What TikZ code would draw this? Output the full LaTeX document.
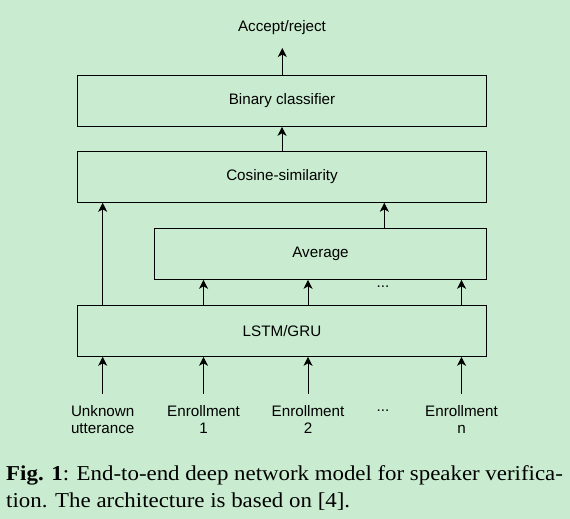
\documentclass[tikz,border=0pt]{standalone}
\usepackage{fontspec}
\setmainfont{Liberation Serif}
\setsansfont{Liberation Sans}
\usetikzlibrary{arrows.meta}
\definecolor{bgcol}{RGB}{201,236,208}
\tikzset{
  box/.style={draw=black, line width=1pt, minimum height=51pt, inner sep=0pt, font=\sffamily\fontsize{15.2}{17.5}\selectfont},
  lbl/.style={inner sep=0pt, align=center, font=\sffamily\fontsize{15.2}{17.5}\selectfont},
  arr/.style={line width=1pt, -{Stealth[length=9pt,width=9pt,inset=2.5pt]}},
  captext/.style={inner sep=0pt, anchor=base west, font=\fontsize{21.2}{26}\selectfont}
}
\begin{document}
\begin{tikzpicture}[x=1pt,y=-1pt]
\fill[bgcol] (0,0) rectangle (570,519);
\useasboundingbox (0,0) rectangle (570,519);
% boxes
\node[box, minimum width=409.4pt] (bin) at (282,100.8) {Binary classifier};
\node[box, minimum width=409.4pt] (cos) at (282,176.8) {Cosine-similarity};
\node[box, minimum width=332.4pt] (avg) at (320.5,253.8) {Average};
\node[box, minimum width=409.4pt] (lstm) at (282,330.8) {LSTM/GRU};
% top label
\node[lbl] (acc) at (282,27.5) {Accept/reject};
\coordinate (acctip) at (282.3,48);
% inputs
\node[lbl, anchor=north] (u) at (102.7,405) {Unknown\\utterance};
\node[lbl, anchor=north] (e1) at (203.5,405) {Enrollment\\1};
\node[lbl, anchor=north] (e2) at (308,405) {Enrollment\\2};
\node[lbl, anchor=north] (en) at (461.5,405) {Enrollment\\n};
\node[lbl] (dotsin) at (383,411) {...};
\node[lbl] (dotsavg) at (383,287) {...};
% arrows
\draw[arr] (bin.north -| acctip) -- (acctip);
\draw[arr] (cos.north) -- (bin.south);
\draw[arr] (u.north |- lstm.north) -- (u.north |- cos.south);
\draw[arr] ([xshift=63.8pt]avg.north) -- ([xshift=63.8pt]avg.north |- cos.south);
\foreach \n in {e1,e2,en}{
  \draw[arr] (\n.north |- lstm.north) -- (\n.north |- avg.south);
}
\foreach \n in {u,e1,e2,en}{
  \draw[arr] ([yshift=11pt]\n.north) -- (\n.north |- lstm.south);
}
% caption
\node[captext] (c1) at (6,480.7) {\scalebox{1.08}[1]{\makebox[515.5pt][s]{\textbf{Fig. 1}: End-to-end deep network model for speaker verifica-}}};
\node[captext] (c2) at (6,507.2) {\scalebox{1.08}[1]{tion. The architecture is based on [4].}};
\end{tikzpicture}
\end{document}
